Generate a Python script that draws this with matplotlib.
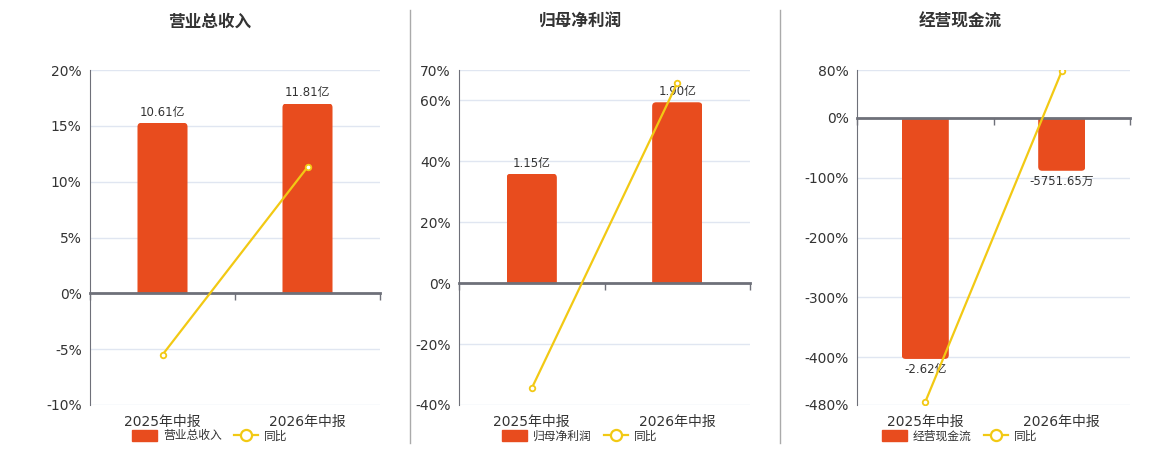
import matplotlib
matplotlib.use('Agg')
import matplotlib.pyplot as plt
from matplotlib.lines import Line2D
from matplotlib.patches import Patch, FancyBboxPatch, Rectangle

plt.rcParams['font.family'] = ['DejaVu Sans', 'Noto Sans CJK SC']

# data
periods = ['2025年中报', '2026年中报']
titles = ['营业总收入', '归母净利润', '经营现金流']

revenue = [10.61, 11.81]          # 亿
revenue_labels = ['10.61亿', '11.81亿']
revenue_yoy = [-5.5, 11.3]        # %

profit = [1.15, 1.90]             # 亿
profit_labels = ['1.15亿', '1.90亿']
profit_yoy = [-34.5, 65.7]

cashflow = [-2.62, -0.575165]     # 亿
cashflow_labels = ['-2.62亿', '-5751.65万']
cashflow_yoy = [-475, 78]

yoy_ticks = [
    [-10, -5, 0, 5, 10, 15, 20],
    [-40, -20, 0, 20, 40, 60, 70],
    [-480, -400, -300, -200, -100, 0, 80],
]

BAR_COLOR = '#E84C1E'
LINE_COLOR = '#F2C914'
AXIS_COLOR = '#6E7079'
GRID_COLOR = '#E0E6F1'
TEXT_COLOR = '#333333'

panels = [
    dict(bars=revenue, labels=revenue_labels, yoy=revenue_yoy, ticks=yoy_ticks[0],
         scale=17.0 / 11.81, rect=[90, 290], center=210),
    dict(bars=profit, labels=profit_labels, yoy=profit_yoy, ticks=yoy_ticks[1],
         scale=59.4 / 1.90, rect=[459, 291], center=580),
    dict(bars=cashflow, labels=cashflow_labels, yoy=cashflow_yoy, ticks=yoy_ticks[2],
         scale=403 / 2.62, rect=[857, 273], center=960),
]

W, H = 1160, 450
AX_H = 335
fig = plt.figure(figsize=(W / 100, H / 100), dpi=100)

x = list(range(len(periods)))

for p, title in zip(panels, titles):
    left, width = p['rect']
    ymin, ymax = p['ticks'][0], p['ticks'][-1]

    ax = fig.add_axes([left / W, 45 / H, width / W, AX_H / H])
    ax.set_xlim(-0.5, 1.5)
    ax.set_ylim(ymin, ymax)
    ax.set_yticks(p['ticks'])
    ax.set_yticklabels([f'{t}%' for t in p['ticks']])
    ax.set_xticks(x)
    ax.set_xticklabels(periods)
    ax.grid(True, axis='y', color=GRID_COLOR, linewidth=1)
    ax.tick_params(axis='y', length=0, pad=6, labelsize=10, labelcolor=TEXT_COLOR)
    ax.tick_params(axis='x', length=0, pad=7, labelsize=10, labelcolor=TEXT_COLOR)
    for s in ['top', 'right', 'bottom']:
        ax.spines[s].set_visible(False)
    ax.spines['left'].set_color(AXIS_COLOR)

    # bars on their own scale, zero aligned with the percent axis
    axb = ax.twinx()
    axb.set_ylim(ymin / p['scale'], ymax / p['scale'])
    axb.set_xlim(-0.5, 1.5)
    bars = axb.bar(x, p['bars'], width=0.345, color=BAR_COLOR)
    axb.bar_label(bars, labels=p['labels'], padding=3, fontsize=8.5, color=TEXT_COLOR)
    axb.axis('off')

    # rounded outer corners
    xpp = 2.0 / width
    ypp = (ymax - ymin) / p['scale'] / AX_H
    r = 4 * xpp
    ext = 4 * ypp
    for rect in bars:
        rect.set_visible(False)
        x0, w, h = rect.get_x(), rect.get_width(), rect.get_height()
        lo, hi = min(0, h), max(0, h)
        if h >= 0:
            lo -= ext
        else:
            hi += ext
        fb = FancyBboxPatch((x0, lo), w, hi - lo,
                            boxstyle=f'round,pad=0,rounding_size={r}',
                            mutation_aspect=ypp / xpp, facecolor=BAR_COLOR,
                            edgecolor='none')
        axb.add_patch(fb)
        clip = Rectangle((x0, min(0, h)), w, abs(h), transform=axb.transData)
        fb.set_clip_path(clip)

    # line on top
    axl = ax.twinx()
    axl.set_ylim(ymin, ymax)
    axl.plot(x, p['yoy'], color=LINE_COLOR, linewidth=1.6, marker='o', markersize=4,
             markerfacecolor='white', markeredgecolor=LINE_COLOR, markeredgewidth=1.3)
    for s in axl.spines.values():
        s.set_visible(False)
    axl.set_yticks([])
    axl.xaxis.set_visible(False)

    zero_frac = (0 - ymin) / (ymax - ymin)
    zax = axl.secondary_xaxis(zero_frac)
    zax.set_alignment('bottom')
    zax.spines['bottom'].set_color(AXIS_COLOR)
    zax.spines['bottom'].set_linewidth(2)
    zax.set_xticks([-0.5, 0.5, 1.5])
    zax.tick_params(length=5, width=1, color=AXIS_COLOR, labelbottom=False, labeltop=False)

    cx = p['center'] / W
    fig.text(cx, 1 - 22 / H, title, ha='center', va='center', fontsize=12,
             fontweight='bold', color=TEXT_COLOR)

    handles = [
        Patch(facecolor=BAR_COLOR, edgecolor=BAR_COLOR, label=title),
        Line2D([0], [0], color=LINE_COLOR, linewidth=1.6, marker='o', markersize=8,
               markerfacecolor='white', markeredgecolor=LINE_COLOR, markeredgewidth=1.6,
               label='同比'),
    ]
    fig.legend(handles=handles, loc='center', bbox_to_anchor=(cx, 14 / H), ncol=2,
               frameon=False, fontsize=8.5, handlelength=2.1, handleheight=1.1,
               handletextpad=0.5, columnspacing=1.0, labelcolor=TEXT_COLOR)

# dividers between the panels
for xd in [410, 780]:
    fig.add_artist(Line2D([xd / W, xd / W], [1 - 10 / H, 1 - 443 / H],
                          color='#AAAAAA', linewidth=1))

fig.savefig('out.png', dpi=100)
